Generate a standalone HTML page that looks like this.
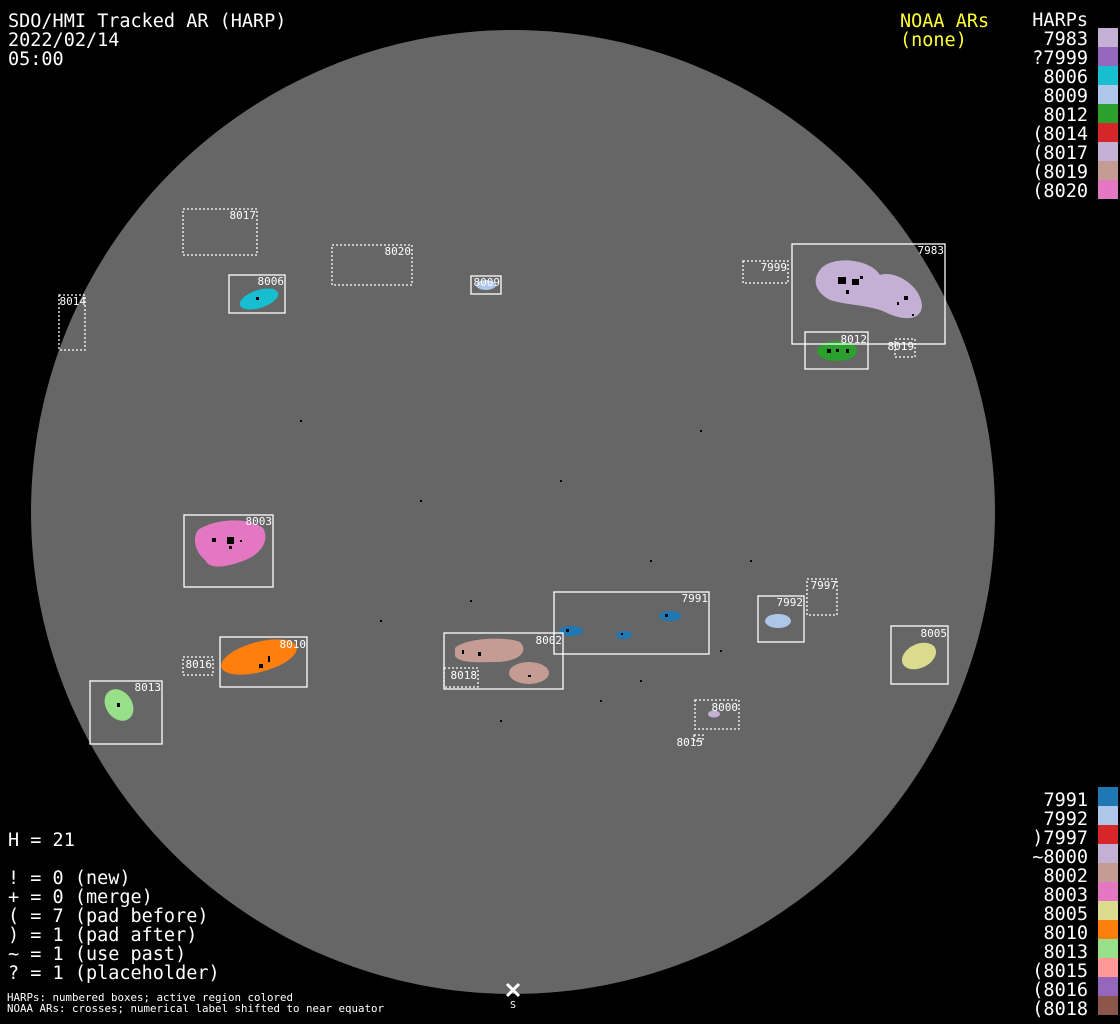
<!DOCTYPE html>
<html><head><meta charset="utf-8"><style>
html,body{margin:0;padding:0;background:#000;}
svg{display:block;}
text{font-family:"DejaVu Sans Mono","Liberation Mono",monospace;}
.b{fill:#fff;font-size:18.5px;}
.s{fill:#fff;font-size:11px;}
.bx{fill:none;stroke:#fff;stroke-width:1.3;}
.dt{fill:none;stroke:#fff;stroke-width:1.3;stroke-dasharray:2 2;}
.k{fill:#000;}
</style></head><body>
<svg width="1120" height="1024" viewBox="0 0 1120 1024">
<rect width="1120" height="1024" fill="#000"/>
<circle cx="513" cy="512" r="482" fill="#666"/>

<!-- colored regions -->
<path d="M820,270 C830,255 870,258 880,275 C895,270 920,285 922,305 C922,320 905,322 885,312 C870,305 845,305 830,300 C815,292 812,280 820,270Z" fill="#c5b0d5"/>
<ellipse cx="837" cy="351" rx="20" ry="10" fill="#2ca02c"/>
<ellipse cx="259" cy="299" rx="20" ry="9" transform="rotate(-18 259 299)" fill="#17becf"/>
<ellipse cx="486" cy="285" rx="10" ry="5" fill="#aec7e8"/>
<path d="M198,530 C215,518 250,517 263,528 C270,540 262,555 240,562 C225,567 210,570 205,560 C195,552 192,538 198,530Z" fill="#e377c2"/>
<ellipse cx="259" cy="657" rx="39" ry="15" transform="rotate(-15 259 657)" fill="#ff7f0e"/>
<ellipse cx="119" cy="705" rx="13" ry="17" transform="rotate(-35 119 705)" fill="#98df8a"/>
<path d="M455,648 C465,638 505,636 520,642 C528,650 522,660 500,662 C480,662 460,664 455,656Z" fill="#c49c94"/>
<ellipse cx="529" cy="673" rx="20" ry="11" fill="#c49c94"/>
<ellipse cx="571" cy="631" rx="12" ry="5" fill="#1f77b4"/>
<ellipse cx="624" cy="635" rx="8" ry="4" fill="#1f77b4"/>
<ellipse cx="670" cy="616" rx="11" ry="5" fill="#1f77b4"/>
<ellipse cx="778" cy="621" rx="13" ry="7" fill="#aec7e8"/>
<ellipse cx="919" cy="656" rx="18" ry="12" transform="rotate(-25 919 656)" fill="#dbdb8d"/>
<ellipse cx="714" cy="714" rx="6" ry="3.5" fill="#c5b0d5"/>

<!-- sunspots -->
<g class="k">
<rect x="838" y="277" width="8" height="7"/><rect x="852" y="279" width="7" height="6"/><rect x="846" y="290" width="3" height="4"/><rect x="860" y="276" width="3" height="3"/>
<rect x="904" y="296" width="4" height="4"/><rect x="897" y="302" width="2" height="3"/><rect x="912" y="314" width="2" height="2"/>
<rect x="827" y="349" width="4" height="4"/><rect x="836" y="349" width="3" height="3"/><rect x="846" y="349" width="3" height="4"/>
<rect x="227" y="537" width="7" height="7"/><rect x="212" y="538" width="4" height="4"/><rect x="229" y="546" width="3" height="3"/><rect x="240" y="540" width="2" height="2"/>
<rect x="259" y="664" width="4" height="4"/><rect x="268" y="656" width="2" height="6"/>
<rect x="117" y="703" width="3" height="4"/>
<rect x="478" y="652" width="3" height="4"/><rect x="462" y="650" width="2" height="4"/><rect x="528" y="675" width="3" height="2"/>
<rect x="566" y="629" width="3" height="3"/><rect x="665" y="614" width="3" height="3"/><rect x="621" y="633" width="2" height="2"/>
<rect x="256" y="297" width="3" height="3"/>
<rect x="300" y="420" width="2" height="2"/><rect x="420" y="500" width="2" height="2"/><rect x="650" y="560" width="2" height="2"/>
<rect x="720" y="650" width="2" height="2"/><rect x="600" y="700" width="2" height="2"/><rect x="500" y="720" width="2" height="2"/>
<rect x="380" y="620" width="2" height="2"/><rect x="560" y="480" width="2" height="2"/><rect x="700" y="430" width="2" height="2"/>
<rect x="640" y="680" width="2" height="2"/><rect x="470" y="600" width="2" height="2"/><rect x="750" y="560" width="2" height="2"/>
</g>

<!-- boxes -->
<rect class="dt" x="183" y="209" width="74" height="46"/>
<rect class="dt" x="332" y="245" width="80" height="40"/>
<rect class="bx" x="471" y="276" width="30" height="18"/>
<rect class="bx" x="229" y="275" width="56" height="38"/>
<rect class="dt" x="59" y="295" width="26" height="55"/>
<rect class="dt" x="743" y="261" width="45" height="22"/>
<rect class="bx" x="792" y="244" width="153" height="100"/>
<rect class="bx" x="805" y="332" width="63" height="37"/>
<rect class="dt" x="895" y="339" width="20" height="18"/>
<rect class="bx" x="184" y="515" width="89" height="72"/>
<rect class="bx" x="554" y="592" width="155" height="62"/>
<rect class="dt" x="807" y="579" width="30" height="36"/>
<rect class="bx" x="758" y="596" width="46" height="46"/>
<rect class="bx" x="891" y="626" width="57" height="58"/>
<rect class="bx" x="220" y="637" width="87" height="50"/>
<rect class="bx" x="444" y="633" width="119" height="56"/>
<rect class="dt" x="444" y="668" width="34" height="19"/>
<rect class="dt" x="183" y="657" width="30" height="18"/>
<rect class="bx" x="90" y="681" width="72" height="63"/>
<rect class="dt" x="695" y="700" width="44" height="29"/>
<rect class="dt" x="694" y="735" width="9" height="6"/>

<g class="s" text-anchor="end">
<text x="256" y="219">8017</text>
<text x="411" y="255">8020</text>
<text x="500" y="286">8009</text>
<text x="284" y="285">8006</text>
<text x="86" y="305">8014</text>
<text x="787" y="271">7999</text>
<text x="944" y="254">7983</text>
<text x="867" y="343">8012</text>
<text x="914" y="350">8019</text>
<text x="272" y="525">8003</text>
<text x="708" y="602">7991</text>
<text x="837" y="589">7997</text>
<text x="803" y="606">7992</text>
<text x="947" y="637">8005</text>
<text x="306" y="648">8010</text>
<text x="562" y="644">8002</text>
<text x="477" y="679">8018</text>
<text x="212" y="668">8016</text>
<text x="161" y="691">8013</text>
<text x="738" y="711">8000</text>
<text x="703" y="746">8015</text>
</g>

<!-- header -->
<text class="b" x="8" y="27">SDO/HMI Tracked AR (HARP)</text>
<text class="b" x="8" y="46">2022/02/14</text>
<text class="b" x="8" y="65">05:00</text>
<text x="900" y="27" style="fill:#ffff33;font-size:18.5px">NOAA ARs</text>
<text x="900" y="46" style="fill:#ffff33;font-size:18.5px">(none)</text>

<g class="b" text-anchor="end">
<text x="1088" y="26">HARPs</text>
<text x="1088" y="45">7983</text>
<text x="1088" y="64">?7999</text>
<text x="1088" y="83">8006</text>
<text x="1088" y="102">8009</text>
<text x="1088" y="121">8012</text>
<text x="1088" y="140">(8014</text>
<text x="1088" y="159">(8017</text>
<text x="1088" y="178">(8019</text>
<text x="1088" y="197">(8020</text>
</g>
<rect x="1098" y="28" width="20" height="19" fill="#c5b0d5"/>
<rect x="1098" y="47" width="20" height="19" fill="#9467bd"/>
<rect x="1098" y="66" width="20" height="19" fill="#17becf"/>
<rect x="1098" y="85" width="20" height="19" fill="#aec7e8"/>
<rect x="1098" y="104" width="20" height="19" fill="#2ca02c"/>
<rect x="1098" y="123" width="20" height="19" fill="#d62728"/>
<rect x="1098" y="142" width="20" height="19" fill="#c5b0d5"/>
<rect x="1098" y="161" width="20" height="19" fill="#c49c94"/>
<rect x="1098" y="180" width="20" height="19" fill="#e377c2"/>

<g class="b" text-anchor="end">
<text x="1088" y="806">7991</text>
<text x="1088" y="825">7992</text>
<text x="1088" y="844">)7997</text>
<text x="1088" y="863">~8000</text>
<text x="1088" y="882">8002</text>
<text x="1088" y="901">8003</text>
<text x="1088" y="920">8005</text>
<text x="1088" y="939">8010</text>
<text x="1088" y="958">8013</text>
<text x="1088" y="977">(8015</text>
<text x="1088" y="996">(8016</text>
<text x="1088" y="1015">(8018</text>
</g>
<rect x="1098" y="787" width="20" height="19" fill="#1f77b4"/>
<rect x="1098" y="806" width="20" height="19" fill="#aec7e8"/>
<rect x="1098" y="825" width="20" height="19" fill="#d62728"/>
<rect x="1098" y="844" width="20" height="19" fill="#c5b0d5"/>
<rect x="1098" y="863" width="20" height="19" fill="#c49c94"/>
<rect x="1098" y="882" width="20" height="19" fill="#e377c2"/>
<rect x="1098" y="901" width="20" height="19" fill="#dbdb8d"/>
<rect x="1098" y="920" width="20" height="19" fill="#ff7f0e"/>
<rect x="1098" y="939" width="20" height="19" fill="#98df8a"/>
<rect x="1098" y="958" width="20" height="19" fill="#ff9896"/>
<rect x="1098" y="977" width="20" height="19" fill="#9467bd"/>
<rect x="1098" y="996" width="20" height="19" fill="#8c564b"/>

<g class="b">
<text x="8" y="846">H = 21</text>
<text x="8" y="884">! = 0 (new)</text>
<text x="8" y="903">+ = 0 (merge)</text>
<text x="8" y="922">( = 7 (pad before)</text>
<text x="8" y="941">) = 1 (pad after)</text>
<text x="8" y="960">~ = 1 (use past)</text>
<text x="8" y="979">? = 1 (placeholder)</text>
</g>
<text x="7" y="1001" style="fill:#fff;font-size:10.8px">HARPs: numbered boxes; active region colored</text>
<text x="7" y="1012" style="fill:#fff;font-size:10.8px">NOAA ARs: crosses; numerical label shifted to near equator</text>

<path d="M507,984 L519,996 M519,984 L507,996" stroke="#fff" stroke-width="3"/>
<text x="513" y="1008" text-anchor="middle" style="fill:#fff;font-size:10px">S</text>
</svg>
</body></html>
